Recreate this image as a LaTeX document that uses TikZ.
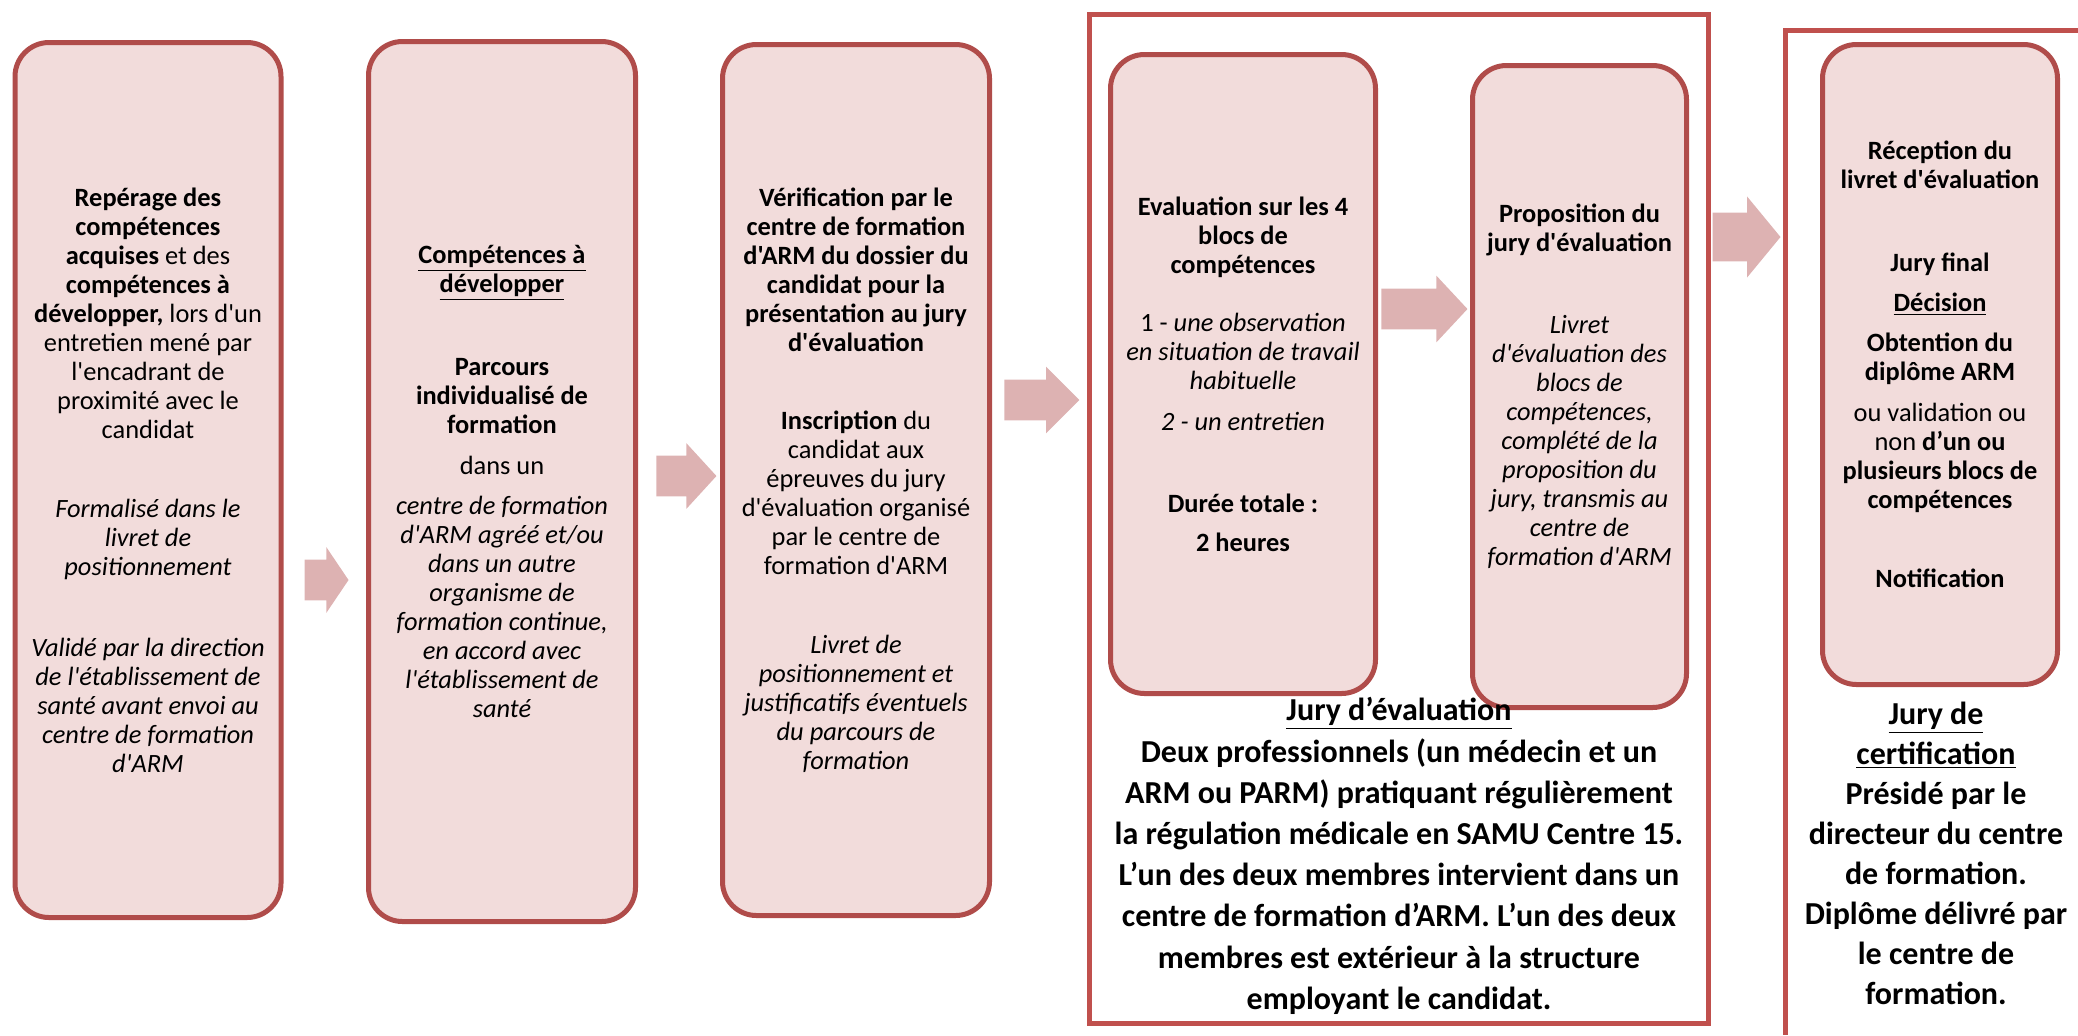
\documentclass[tikz,border=0pt]{standalone}
\usepackage{fontspec}
\setmainfont{Carlito}[Ligatures=TeXOff]
\usetikzlibrary{shapes.arrows}

\definecolor{boxline}{HTML}{B04C4A}
\definecolor{boxfill}{HTML}{F2DCDB}
\definecolor{frameline}{HTML}{C0504D}
\definecolor{arrowfill}{HTML}{DDB2B2}

\tikzset{
  stepbox/.style={draw=boxline, line width=2.5pt, fill=boxfill, rounded corners=17pt,
    inner sep=0pt, align=center, font=\fontsize{13.2}{14.5}\selectfont},
  juryframe/.style={draw=frameline, line width=2.5pt},
  jurytext/.style={align=center, font=\fontsize{16}{20}\selectfont\bfseries},
  flowarrow/.style={single arrow, fill=arrowfill, draw=none, inner xsep=0pt,
    inner ysep=10pt, single arrow head indent=0pt, anchor=tip}
}

\begin{document}
\begin{tikzpicture}[x=0.5pt, y=-0.5pt]
  \useasboundingbox (0,0) rectangle (2078,1035);

  % the two jury frames
  \draw[juryframe] (1089.5,14.5) rectangle (1708.5,1023);
  \draw[juryframe] (2078,30.5) -- (1785.5,30.5) -- (1785.5,1035);

  % steps
  \node[stepbox, minimum width=133pt, minimum height=437.5pt] (repere) at (148,480) {%
    \textbf{Repérage des}\\ \textbf{compétences}\\ \textbf{acquises} et des\\
    \textbf{compétences à}\\ \textbf{développer,} lors d'un\\ entretien mené par\\
    l'encadrant de\\ proximité avec le\\ candidat\\[25pt]
    \textit{Formalisé dans le}\\ \textit{livret de}\\ \textit{positionnement}\\[26pt]
    \textit{Validé par la direction}\\ \textit{de l'établissement de}\\
    \textit{santé avant envoi au}\\ \textit{centre de formation}\\ \textit{d'ARM}};
  \node[stepbox, minimum width=133.5pt, minimum height=440pt] (parcours) at (502,481.5) {%
    \underline{\textbf{Compétences à}}\\ \underline{\textbf{développer}}\\[27pt]
    \textbf{Parcours}\\ \textbf{individualisé de}\\ \textbf{formation}\\[6pt]
    dans un\\[5.5pt]
    \textit{centre de formation}\\ \textit{d'ARM agréé et/ou}\\ \textit{dans un autre}\\
    \textit{organisme de}\\ \textit{formation continue,}\\ \textit{en accord avec}\\
    \textit{l'établissement de}\\ \textit{santé}};
  \node[stepbox, minimum width=133.5pt, minimum height=435.5pt] (verif) at (856,480) {%
    \textbf{Vérification par le}\\ \textbf{centre de formation}\\ \textbf{d'ARM du dossier du}\\
    \textbf{candidat pour la}\\ \textbf{présentation au jury}\\ \textbf{d'évaluation}\\[24.5pt]
    \textbf{Inscription} du\\ candidat aux\\ épreuves du jury\\ d'évaluation organisé\\
    par le centre de\\ formation d'ARM\\[25pt]
    \textit{Livret de}\\ \textit{positionnement et}\\ \textit{justificatifs éventuels}\\
    \textit{du parcours de}\\ \textit{formation}};
  \node[stepbox, minimum width=132.5pt, minimum height=319.5pt] (evalblocs) at (1243,374) {%
    \textbf{Evaluation sur les 4}\\ \textbf{blocs de}\\ \textbf{compétences}\\[14.5pt]
    1 - \textit{une observation}\\ \textit{en situation de travail}\\ \textit{habituelle}\\[6pt]
    \textit{2 - un entretien}\\[26.5pt]
    \textbf{Durée totale :}\\[5pt] \textbf{2 heures}};
  \node[stepbox, minimum width=107pt, minimum height=321pt] (propjury) at (1579.5,386.5) {%
    \textbf{Proposition du}\\ \textbf{jury d'évaluation}\\[26.5pt]
    \textit{Livret}\\ \textit{d'évaluation des}\\ \textit{blocs de}\\ \textit{compétences,}\\
    \textit{complété de la}\\ \textit{proposition du}\\ \textit{jury, transmis au}\\
    \textit{centre de}\\ \textit{formation d'ARM}};
  \node[stepbox, minimum width=117.5pt, minimum height=320pt] (reception) at (1940,364.5) {%
    \textbf{Réception du}\\ \textbf{livret d'évaluation}\\[27pt]
    \textbf{Jury final}\\[5.5pt] \underline{\textbf{Décision}}\\[5.5pt]
    \textbf{Obtention du}\\ \textbf{diplôme ARM}\\[6pt]
    ou validation ou\\ non \textbf{d’un ou}\\ \textbf{plusieurs blocs de}\\
    \textbf{compétences}\\[25pt] \textbf{Notification}};

  % jury texts
  \node[jurytext, font=\fontsize{16}{20.6}\selectfont\bfseries] (evaljury) at (1399,856) {%
    \underline{Jury d’évaluation}\\ Deux professionnels (un médecin et un\\
    ARM ou PARM) pratiquant régulièrement\\ la régulation médicale en SAMU Centre 15.\\
    L’un des deux membres intervient dans un\\ centre de formation d’ARM. L’un des deux\\
    membres est extérieur à la structure\\ employant le candidat.};
  \node[jurytext] (certif) at (1936,853) {%
    \underline{Jury de}\\ \underline{certification}\\ Présidé par le\\ directeur du centre\\
    de formation.\\ Diplôme délivré par\\ le centre de\\ formation.};

  % arrows
  \node[flowarrow, minimum height=22pt, single arrow head extend=6.25pt,
    single arrow tip angle=112] (a1) at (349,580) {};
  \node[flowarrow, minimum height=30pt, single arrow head extend=6.25pt,
    single arrow tip angle=95] (a2) at (717,476) {};
  \node[flowarrow, minimum height=37.5pt, single arrow head extend=6.5pt,
    single arrow tip angle=90] (a3) at (1080,400) {};
  \node[flowarrow, minimum height=43pt, single arrow head extend=6.5pt,
    single arrow tip angle=94] (a4) at (1468,309) {};
  \node[flowarrow, minimum height=34pt, inner ysep=12pt, single arrow head extend=8pt,
    single arrow tip angle=101] (a5) at (1781,237) {};
\end{tikzpicture}
\end{document}
